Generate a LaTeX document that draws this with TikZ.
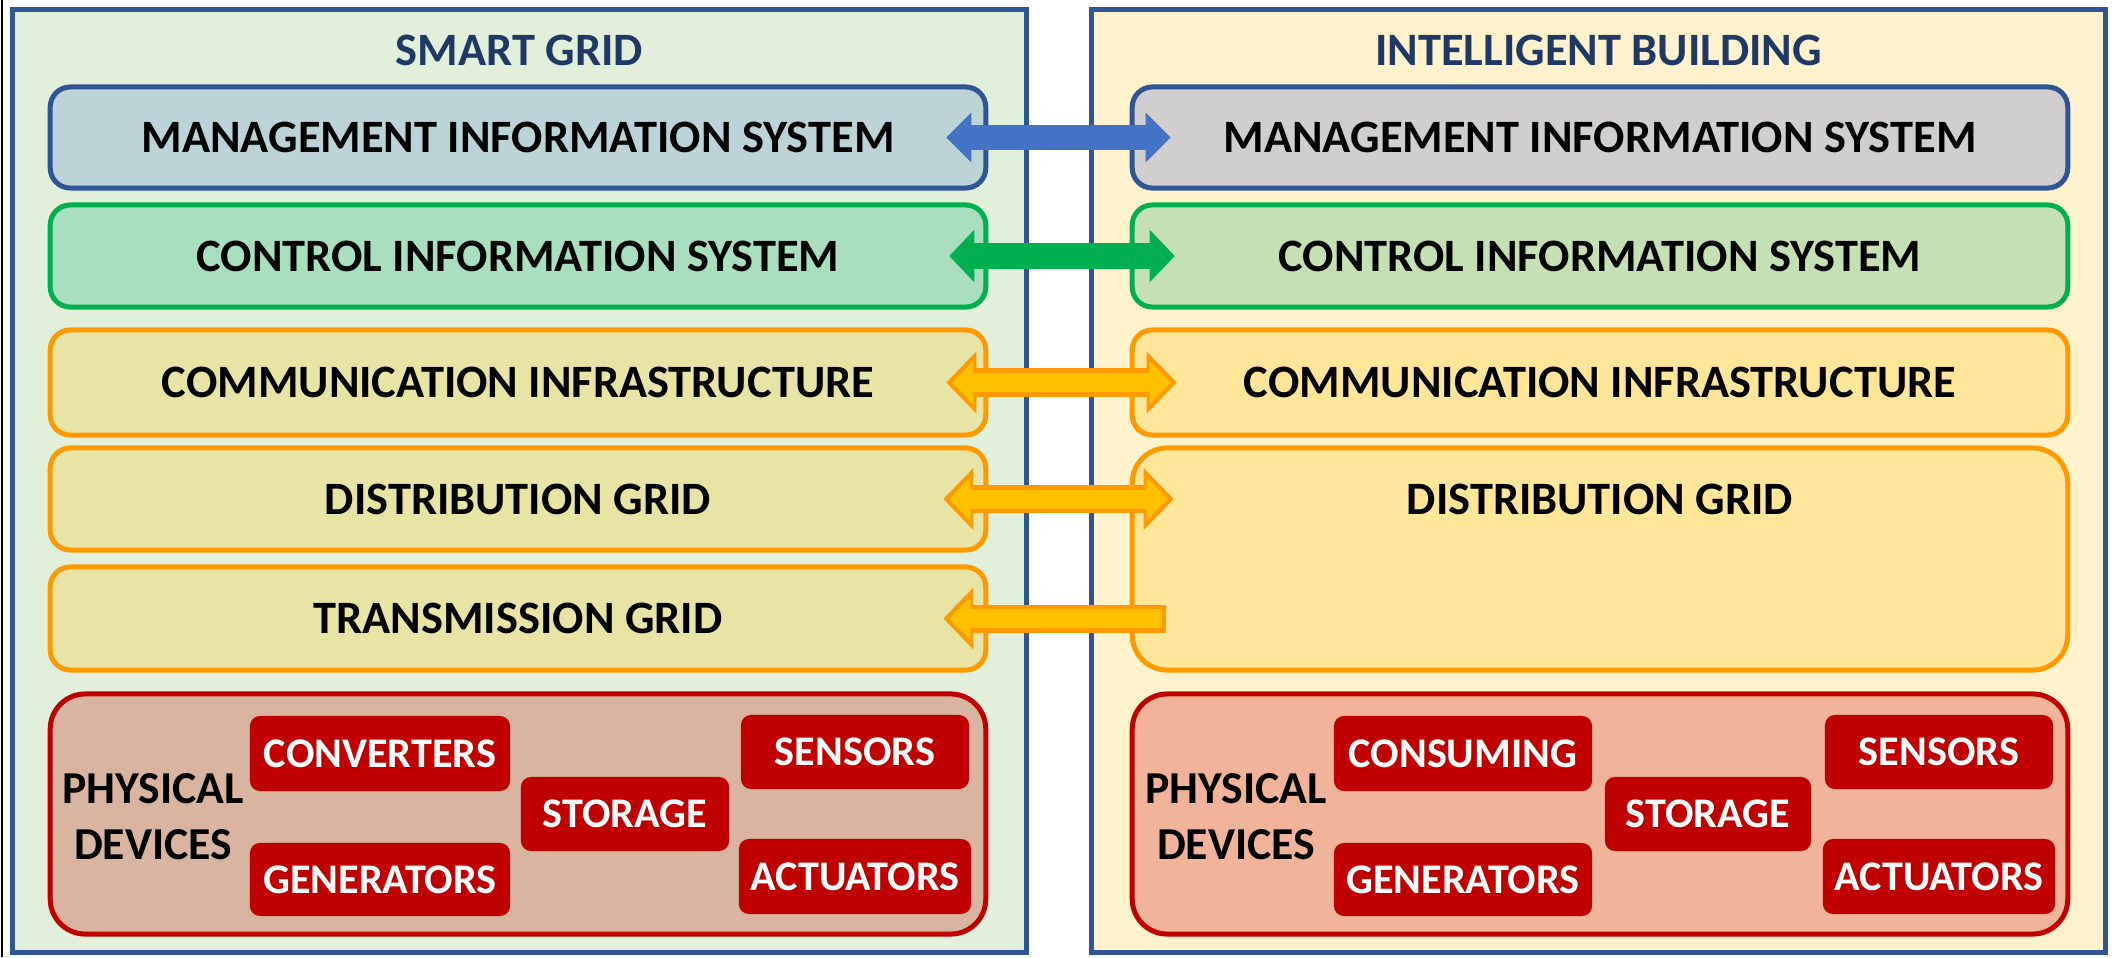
\documentclass[tikz,border=0pt]{standalone}
\usepackage{fontspec}
\setmainfont{Carlito}
\usetikzlibrary{arrows.meta}

\definecolor{panelblue}{HTML}{2F5597}
\definecolor{titleblue}{HTML}{203864}
\definecolor{sgfill}{HTML}{E2EFDA}
\definecolor{ibfill}{HTML}{FFF2CC}
\definecolor{lmisfill}{HTML}{BCD3D8}
\definecolor{rmisfill}{HTML}{D0CECE}
\definecolor{cisgreen}{HTML}{00B050}
\definecolor{lcisfill}{HTML}{A9DFBF}
\definecolor{rcisfill}{HTML}{C5E0B4}
\definecolor{gridorange}{HTML}{FF9900}
\definecolor{lgridfill}{HTML}{E8E4A6}
\definecolor{rgridfill}{HTML}{FFE699}
\definecolor{devred}{HTML}{C00000}
\definecolor{lphysfill}{HTML}{D9B4A0}
\definecolor{rphysfill}{HTML}{F1B39A}
\definecolor{arrowblue}{HTML}{4472C4}
\definecolor{arrowyellow}{HTML}{FFC000}

\tikzset{
  panel/.style={rectangle,draw=panelblue,line width=0.05cm,minimum width=10.13cm,minimum height=9.42cm},
  paneltitle/.style={text=titleblue,font=\fontsize{13.2}{15}\selectfont\bfseries},
  layer/.style={rectangle,rounded corners=0.2cm,line width=0.05cm,minimum width=9.35cm,
    font=\fontsize{13.2}{15}\selectfont\bfseries},
  bigbox/.style={layer,rounded corners=0.35cm},
  device/.style={rectangle,rounded corners=0.1cm,fill=devred,text=white,
    font=\fontsize{12}{14}\selectfont\bfseries},
  physlabel/.style={align=center,font=\fontsize{13}{16}\selectfont\bfseries},
  HeadOut/.tip={Triangle[length=0.30cm,width=0.60cm]},
  HeadIn/.tip={Triangle[length=0.21cm,width=0.42cm]},
  bluelink/.style={arrowblue,line width=0.25cm,
    {Triangle[length=0.25cm,width=0.48cm]}-{Triangle[length=0.25cm,width=0.48cm]}},
  greenlink/.style={cisgreen,line width=0.25cm,
    {Triangle[length=0.25cm,width=0.51cm]}-{Triangle[length=0.25cm,width=0.51cm]}},
  orangeout/.style={gridorange,line width=0.28cm},
  orangein/.style={arrowyellow,line width=0.19cm}
}

\begin{document}
\begin{tikzpicture}[x=0.01cm,y=-0.01cm]
  \useasboundingbox (0,0) rectangle (2114,957);
  \draw[black,line width=0.02cm] (2,0) -- (2,957);

  % the two panels
  \node[panel,fill=sgfill] (sg) at (519.5,481) {};
  \node[panel,fill=ibfill] (ib) at (1598.5,481) {};
  \node[paneltitle] (sgtitle) at (519.5,50) {SMART GRID};
  \node[paneltitle] (ibtitle) at (1598.5,50) {INTELLIGENT BUILDING};

  % smart grid layers
  \node[layer,draw=panelblue,fill=lmisfill,minimum height=1.01cm] (lmis) at (518,137.5) {MANAGEMENT INFORMATION SYSTEM};
  \node[layer,draw=cisgreen,fill=lcisfill,minimum height=1.02cm] (lcis) at (518,256) {CONTROL INFORMATION SYSTEM};
  \node[layer,draw=gridorange,fill=lgridfill,minimum height=1.05cm] (lcomm) at (518,382.5) {COMMUNICATION INFRASTRUCTURE};
  \node[layer,draw=gridorange,fill=lgridfill,minimum height=1.02cm] (ldist) at (518,499) {DISTRIBUTION GRID};
  \node[layer,draw=gridorange,fill=lgridfill,minimum height=1.03cm] (ltrans) at (518,618.5) {TRANSMISSION GRID};
  \node[bigbox,draw=devred,fill=lphysfill,minimum height=2.40cm] (lphys) at (518,814) {};
  \node[physlabel] (lphyslabel) at (153,817) {PHYSICAL\\DEVICES};
  \node[device,minimum width=2.60cm,minimum height=0.75cm] (lconv) at (380,753.5) {CONVERTERS};
  \node[device,minimum width=2.60cm,minimum height=0.73cm] (lgen) at (380,879.5) {GENERATORS};
  \node[device,minimum width=2.08cm,minimum height=0.74cm] (lstor) at (625,814) {STORAGE};
  \node[device,minimum width=2.28cm,minimum height=0.74cm] (lsens) at (855,752) {SENSORS};
  \node[device,minimum width=2.28cm,minimum height=0.75cm] (lact) at (855,876.5) {ACTUATORS};

  % intelligent building layers
  \node[layer,draw=panelblue,fill=rmisfill,minimum height=1.01cm] (rmis) at (1600,137.5) {MANAGEMENT INFORMATION SYSTEM};
  \node[layer,draw=cisgreen,fill=rcisfill,minimum height=1.02cm] (rcis) at (1600,256) {CONTROL INFORMATION SYSTEM};
  \node[layer,draw=gridorange,fill=rgridfill,minimum height=1.05cm] (rcomm) at (1600,382.5) {COMMUNICATION INFRASTRUCTURE};
  \node[bigbox,draw=gridorange,fill=rgridfill,minimum height=2.22cm] (rdist) at (1600,559) {};
  \node[font=\fontsize{13.2}{15}\selectfont\bfseries] (rdisttext) at (1600,499) {DISTRIBUTION GRID};
  \node[bigbox,draw=devred,fill=rphysfill,minimum height=2.40cm] (rphys) at (1600,814) {};
  \node[physlabel] (rphyslabel) at (1236,817) {PHYSICAL\\DEVICES};
  \node[device,minimum width=2.58cm,minimum height=0.75cm] (rcons) at (1463,753.5) {CONSUMING};
  \node[device,minimum width=2.58cm,minimum height=0.73cm] (rgen) at (1463,879.5) {GENERATORS};
  \node[device,minimum width=2.06cm,minimum height=0.74cm] (rstor) at (1708,814) {STORAGE};
  \node[device,minimum width=2.28cm,minimum height=0.74cm] (rsens) at (1939,752) {SENSORS};
  \node[device,minimum width=2.28cm,minimum height=0.75cm] (ract) at (1939,876.5) {ACTUATORS};

  % links between the panels
  \coordinate (rdistin) at (ldist.east -| rdist.west);
  \coordinate (rtransin) at (ltrans.east -| rdist.west);
  \draw[bluelink] ([xshift=-0.42cm]lmis.east) -- ([xshift=0.41cm]rmis.west);
  \draw[greenlink] ([xshift=-0.39cm]lcis.east) -- ([xshift=0.45cm]rcis.west);
  \draw[orangeout,HeadOut-HeadOut] ([xshift=-0.42cm]lcomm.east) -- ([xshift=0.47cm]rcomm.west);
  \draw[orangein,HeadIn-HeadIn,shorten <=0.06cm,shorten >=0.06cm] ([xshift=-0.42cm]lcomm.east) -- ([xshift=0.47cm]rcomm.west);
  \draw[orangeout,HeadOut-HeadOut] ([xshift=-0.45cm]ldist.east) -- ([xshift=0.44cm]rdistin);
  \draw[orangein,HeadIn-HeadIn,shorten <=0.06cm,shorten >=0.06cm] ([xshift=-0.45cm]ldist.east) -- ([xshift=0.44cm]rdistin);
  \draw[orangeout,HeadOut-] ([xshift=-0.45cm]ltrans.east) -- ([xshift=0.36cm]rtransin);
  \draw[orangein,HeadIn-,shorten <=0.06cm,shorten >=0.04cm] ([xshift=-0.45cm]ltrans.east) -- ([xshift=0.36cm]rtransin);
\end{tikzpicture}
\end{document}
